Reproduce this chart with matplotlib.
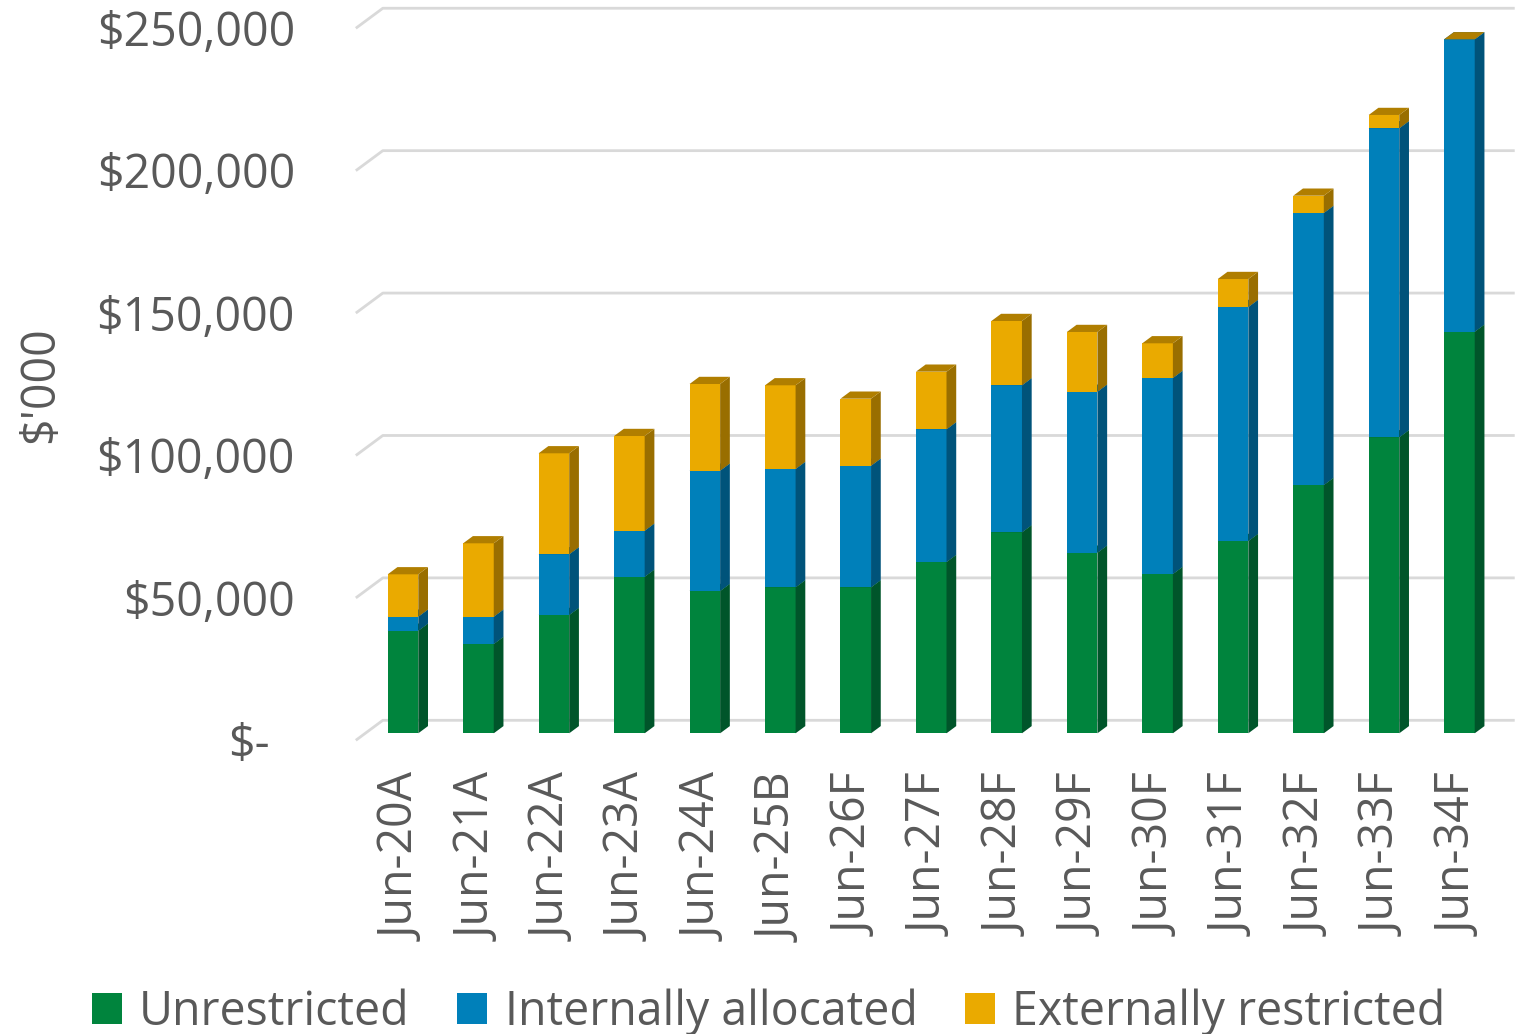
import matplotlib
matplotlib.use("Agg")
import matplotlib.pyplot as plt
from matplotlib.patches import Polygon, Patch

plt.rcParams['font.family'] = ['Open Sans', 'DejaVu Sans']

# Reserve balances by year ($'000)
periods = ['Jun-20A', 'Jun-21A', 'Jun-22A', 'Jun-23A', 'Jun-24A', 'Jun-25B',
           'Jun-26F', 'Jun-27F', 'Jun-28F', 'Jun-29F', 'Jun-30F', 'Jun-31F',
           'Jun-32F', 'Jun-33F', 'Jun-34F']
unrestricted = [36020, 31350, 41540, 54980, 49960, 51260, 51260, 60140,
                70570, 63410, 55930, 67520, 87180, 103930, 141000]
internally_allocated = [4920, 9590, 21310, 16150, 42240, 41540, 42690, 46590,
                        51610, 56520, 68820, 82150, 95500, 108490, 102660]
externally_restricted = [14880, 25770, 35460, 33250, 30440, 29380, 23530, 20230,
                         22580, 20970, 12180, 9830, 6070, 4670, 0]
yticks = [0, 50000, 100000, 150000, 200000, 250000]

# name, values, front, side, top
series = [
    ('Unrestricted', unrestricted, '#00843D', '#00552A', '#006A31'),
    ('Internally allocated', internally_allocated, '#0080BA', '#00537A', '#006696'),
    ('Externally restricted', externally_restricted, '#EAAA00', '#996E00', '#B07E00'),
]

TXT = '#595959'
FS = 33.5

# page geometry (pixels) -> data units
W, H = 1531, 1034
X0_PX, PX_PER_CAT = 403.0, 75.46
BASE_PX, VAL_PER_PX = 733.3, 351.1

def px_x(p):
    return (p - X0_PX) / PX_PER_CAT

def px_y(p):
    return (BASE_PX - p) * VAL_PER_PX

# oblique depth vector for the full floor depth
DX, DY = 27 / PX_PER_CAT, 20 * VAL_PER_PX
BAR_DEPTH = 0.36
WALL = 0.65
FLOOR_FRONT = -0.35
BAR_W = 0.405

fig = plt.figure(figsize=(W / 100, H / 100), dpi=100)
ax = fig.add_axes([0, 0, 1, 1])
ax.set_xlim(px_x(0), px_x(W))
ax.set_ylim(px_y(H), px_y(0))
ax.axis('off')

n = len(periods)
x_left, x_right = -0.5, n - 0.5

# side wall + back wall gridlines
for v in yticks:
    xs = [x_left + FLOOR_FRONT * DX, x_left + WALL * DX, x_right + WALL * DX]
    ys = [v + FLOOR_FRONT * DY, v + WALL * DY, v + WALL * DY]
    ax.plot(xs, ys, color='#D9D9D9', lw=2.0, solid_capstyle='butt', zorder=1)
    label = '$-' if v == 0 else f'${v:,.0f}'
    xl = px_x(270) if v == 0 else px_x(295)
    ax.text(xl, v + FLOOR_FRONT * DY - 5 * VAL_PER_PX, label, ha='right',
            va='center', fontsize=FS, color=TXT)

ax.text(px_x(40), px_y(385), "$'000", rotation=90, ha='center', va='center',
        fontsize=FS, color=TXT)

# 3D stacked columns: front faces with bar(), sides/tops as polygons
bdx, bdy = BAR_DEPTH * DX, BAR_DEPTH * DY
bottoms = [0.0] * n
for name, vals, c_front, c_side, c_top in series:
    ax.bar(range(n), vals, bottom=bottoms, width=BAR_W, color=c_front,
           linewidth=0, zorder=3)
    for i, v in enumerate(vals):
        b, t = bottoms[i], bottoms[i] + v
        xr = i + BAR_W / 2
        xl = i - BAR_W / 2
        side = [(xr, b), (xr + bdx, b + bdy), (xr + bdx, t + bdy), (xr, t)]
        ax.add_patch(Polygon(side, closed=True, facecolor=c_side,
                             edgecolor='none', zorder=3))
        top = [(xl, t), (xr, t), (xr + bdx, t + bdy), (xl + bdx, t + bdy)]
        ax.add_patch(Polygon(top, closed=True, facecolor=c_top,
                             edgecolor='none', zorder=3))
    bottoms = [b + v for b, v in zip(bottoms, vals)]

for i, lab in enumerate(periods):
    ax.text(i - 0.0, px_y(774), lab, rotation=90, ha='center', va='top',
            fontsize=FS, color=TXT)

handles = [Patch(facecolor=s[2], label=s[0]) for s in series]
fig.legend(handles=handles, loc='center', bbox_to_anchor=(0.502, 1 - 1012 / H),
           ncol=3, frameon=False, fontsize=FS, labelcolor=TXT,
           handlelength=0.65, handleheight=0.65, handletextpad=0.37,
           columnspacing=1.02, borderaxespad=0, borderpad=0)

fig.savefig('out.png', dpi=100)
